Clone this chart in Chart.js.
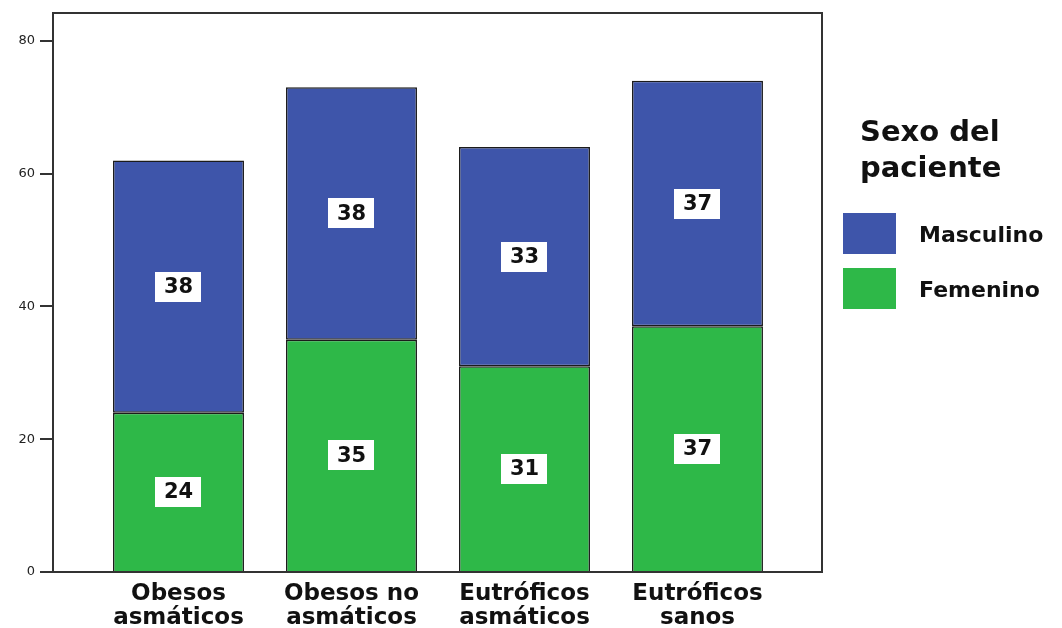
<!DOCTYPE html>
<html>
<head>
<meta charset="utf-8">
<script src="https://cdn.jsdelivr.net/npm/chart.js@4.4.1/dist/chart.umd.min.js"></script>
<style>
html,body{margin:0;padding:0;background:#fff;}
#wrap{width:1062px;height:628px;}
</style>
</head>
<body>
<div id="wrap"><canvas id="c" width="1062" height="628"></canvas></div>
<script>
const categories = [["Obesos","asmáticos"],["Obesos no","asmáticos"],["Eutróficos","asmáticos"],["Eutróficos","sanos"]];
const femenino = [24, 35, 31, 37];
const masculino = [38, 38, 33, 37];
const yTicks = [0, 20, 40, 60, 80];
const legendTitle = ["Sexo del", "paciente"];

const BLUE = '#3E55AA';
const GREEN = '#2EB848';
const FONT = '"DejaVu Sans", Verdana, sans-serif';

const labelPlugin = {
  id: 'segLabels',
  afterDatasetsDraw(chart) {
    const ctx = chart.ctx;
    ctx.save();
    chart.data.datasets.forEach((ds, di) => {
      const meta = chart.getDatasetMeta(di);
      meta.data.forEach((el, i) => {
        const v = ds.data[i].y;
        const cx = el.x;
        const cy = (el.y + el.base) / 2;
        ctx.fillStyle = '#ffffff';
        ctx.fillRect(Math.round(cx - 23), Math.round(cy - 15), 46, 30);
        ctx.fillStyle = '#111111';
        ctx.font = 'bold 21px ' + FONT;
        ctx.textAlign = 'center';
        ctx.textBaseline = 'middle';
        ctx.fillText(String(v), cx, cy + 1);
      });
    });
    ctx.restore();
  }
};

const framePlugin = {
  id: 'frame',
  afterDraw(chart) {
    const ctx = chart.ctx;
    const a = chart.chartArea;
    ctx.save();
    ctx.strokeStyle = '#333333';
    ctx.lineWidth = 2;
    ctx.strokeRect(a.left, a.top, a.right - a.left, a.bottom - a.top);
    // legend
    ctx.fillStyle = '#111111';
    ctx.textAlign = 'left';
    ctx.textBaseline = 'alphabetic';
    ctx.font = 'bold 29px ' + FONT;
    ctx.fillText(legendTitle[0], 860, 141);
    ctx.fillText(legendTitle[1], 860, 177);
    const items = [chart.data.datasets[1], chart.data.datasets[0]];
    const boxY = [213, 268];
    items.forEach((ds, k) => {
      ctx.fillStyle = ds.backgroundColor;
      ctx.fillRect(843, boxY[k], 53, 41);
      ctx.fillStyle = '#111111';
      ctx.font = 'bold 22px ' + FONT;
      ctx.fillText(ds.label, 919, boxY[k] + 29);
    });
    ctx.restore();
  }
};

new Chart(document.getElementById('c'), {
  type: 'bar',
  data: {
    datasets: [
      { label: 'Femenino', data: femenino.map((v, i) => ({x: i, y: v})), backgroundColor: GREEN, borderColor: '#1b1b1b', borderWidth: 1.5, borderSkipped: 'bottom', barPercentage: 0.757, categoryPercentage: 1.0 },
      { label: 'Masculino', data: masculino.map((v, i) => ({x: i, y: v})), backgroundColor: BLUE, borderColor: '#1b1b1b', borderWidth: 1.5, borderSkipped: false, barPercentage: 0.757, categoryPercentage: 1.0 }
    ]
  },
  options: {
    responsive: false,
    animation: false,
    layout: { padding: { top: 13, right: 240, left: 0, bottom: 0 } },
    plugins: { legend: { display: false }, tooltip: { enabled: false } },
    scales: {
      x: {
        type: 'linear',
        stacked: true,
        offset: false,
        min: -0.7254,
        max: 3.7197,
        grid: { display: false, offset: false },
        border: { display: false },
        afterBuildTicks: s => { s.ticks = categories.map((_, i) => ({ value: i })); },
        afterFit: s => { s.height = 56; },
        ticks: {
          autoSkip: false,
          maxRotation: 0,
          padding: 2,
          color: '#111111',
          font: { family: FONT, size: 23, weight: 'bold', lineHeight: 1.04 },
          callback: v => categories[Math.round(v)] || ''
        }
      },
      y: {
        stacked: true,
        min: 0,
        max: 84.2,
        grid: { drawOnChartArea: false, drawTicks: true, tickLength: 13, color: '#333333', lineWidth: 2 },
        border: { display: false },
        afterBuildTicks: s => { s.ticks = yTicks.map(v => ({ value: v })); },
        afterFit: s => { s.width = 53; },
        ticks: {
          padding: 5,
          color: '#222222',
          font: { family: FONT, size: 13 },
          callback: v => String(v)
        }
      }
    }
  },
  plugins: [labelPlugin, framePlugin]
});
</script>
</body>
</html>
